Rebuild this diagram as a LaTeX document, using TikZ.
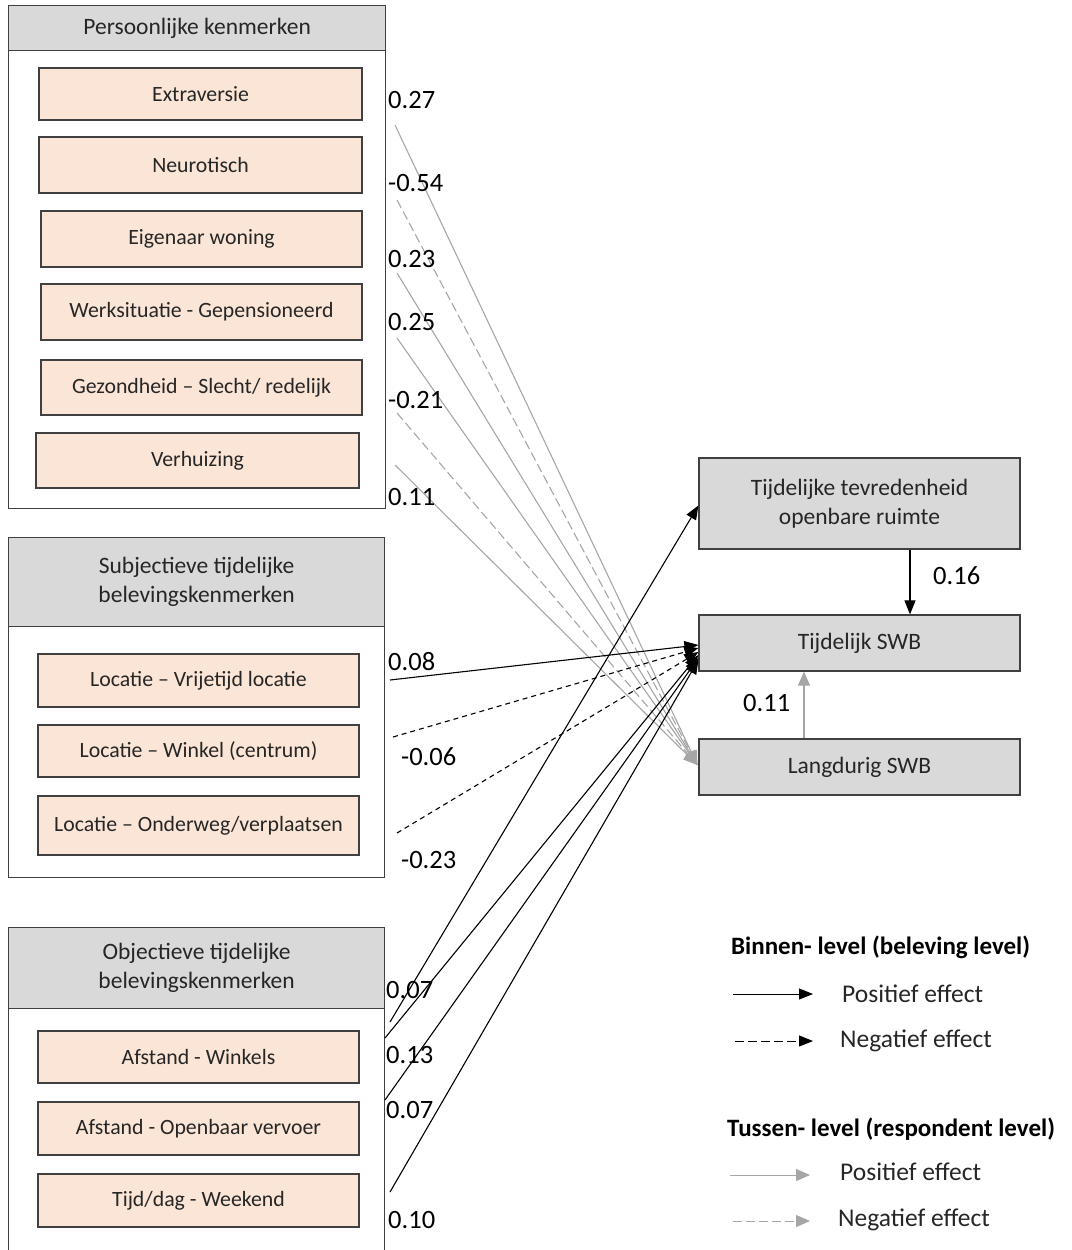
\documentclass[tikz,border=0pt]{standalone}
\usepackage{fontspec}
\setmainfont{Carlito}
\usepackage{xcolor}
\usepackage{tikz}
\usetikzlibrary{arrows.meta}
\usetikzlibrary{positioning}
\definecolor{lijn}{HTML}{404040}
\definecolor{grijs}{HTML}{D9D9D9}
\definecolor{perzik}{HTML}{FBE5D6}
\definecolor{tekst}{HTML}{262626}
\definecolor{licht}{HTML}{A6A6A6}
\tikzset{
  kader/.style={draw=lijn, line width=1.2pt, fill=white, anchor=north west, inner sep=0pt},
  kop/.style={draw=lijn, line width=1.2pt, fill=grijs, anchor=north west, align=center, text=tekst,
    font=\fontsize{23.5}{29}\selectfont, minimum width=377pt, minimum height=#1},
  kenmerk/.style={draw=lijn, line width=1.2pt, fill=perzik, text=tekst, font=\fontsize{21.8}{26}\selectfont,
    minimum width=321pt, minimum height=#1},
  kenmerk/.default=54pt,
  uitkomst/.style={draw=lijn, line width=1.2pt, fill=grijs, text=tekst, align=center,
    font=\fontsize{23.5}{29}\selectfont, minimum width=321pt, minimum height=#1},
  uitkomst/.default=56pt,
  getal/.style={font=\fontsize{26.5}{30}\selectfont, anchor=west, inner sep=0pt},
  legtekst/.style={getal, font=\fontsize{25.5}{30}\selectfont, text=tekst},
  legkop/.style={getal, font=\fontsize{25}{30}\selectfont\bfseries},
  pijl/.style={-{Triangle[length=14pt,width=11pt]}, line width=1.1pt},
  pijlgrijs/.style={pijl, draw=licht, -{Triangle[length=14pt,width=12pt,fill=licht]}},
  streep/.style={dash pattern=on #1 off 4pt},
  streep/.default=5pt,
}

\begin{document}
\begin{tikzpicture}[x=1pt, y=-1pt]
  \useasboundingbox (0,0) rectangle (1071,1250);
  % panel: persoonlijke kenmerken
  \node[kader, minimum width=377pt, minimum height=503pt] (pk) at (8,5) {};
  \node[kop=45pt] (pkkop) at (8,5) {Persoonlijke kenmerken};
  \node[kenmerk=52pt, minimum width=323pt] (extra) at (200.5,94) {Extraversie};
  \node[kenmerk=56pt, minimum width=323pt] (neuro) at (200.5,165) {Neurotisch};
  \node[kenmerk=56pt] (eigen) at (201.5,239) {Eigenaar woning};
  \node[kenmerk=56pt] (werk) at (201.5,312) {Werksituatie - Gepensioneerd};
  \node[kenmerk=55pt] (gezond) at (201.5,387.5) {Gezondheid -- Slecht/ redelijk};
  \node[kenmerk=55pt, minimum width=323pt] (verhuis) at (197.5,460.5) {Verhuizing};
  % panel: subjectieve kenmerken
  \node[kader, minimum width=376pt, minimum height=340pt] (sub) at (8,537) {};
  \node[kop=89pt, minimum width=376pt] (subkop) at (8,537) {Subjectieve tijdelijke\\belevingskenmerken};
  \node[kenmerk=53pt] (vrije) at (198.5,680.5) {Locatie -- Vrijetijd locatie};
  \node[kenmerk=52pt] (winkel) at (198.5,751) {Locatie -- Winkel (centrum)};
  \node[kenmerk=59pt] (onder) at (198.5,825.5) {Locatie -- Onderweg/verplaatsen};
  % panel: objectieve kenmerken
  \node[kader, minimum width=376pt, minimum height=330pt] (obj) at (8,927) {};
  \node[kop=81pt, minimum width=376pt] (objkop) at (8,927) {Objectieve tijdelijke\\belevingskenmerken};
  \node[kenmerk=52pt] (afswink) at (198.5,1057) {Afstand - Winkels};
  \node[kenmerk=53pt] (afsov) at (198.5,1128.5) {Afstand - Openbaar vervoer};
  \node[kenmerk=53pt] (weekend) at (198.5,1200.5) {Tijd/dag - Weekend};
  % uitkomsten
  \node[uitkomst=91pt] (tevr) at (859.5,503.5) {Tijdelijke tevredenheid\\openbare ruimte};
  \node[uitkomst] (tswb) at (859.5,643) {Tijdelijk SWB};
  \node[uitkomst] (lswb) at (859.5,767) {Langdurig SWB};
  % losse beginpunten
  \coordinate (g1) at (395,125);
  \coordinate (g2) at (397,200);
  \coordinate (g3) at (397,273);
  \coordinate (g4) at (397,338);
  \coordinate (g5) at (397,413);
  \coordinate (g6) at (395,465);
  \coordinate (b1) at (390,680);
  \coordinate (b2) at (393,737);
  \coordinate (b3) at (397,833);
  \coordinate (o1) at (390,1022);
  \coordinate (o2) at (385,1038);
  \coordinate (o3) at (385,1100);
  \coordinate (o4) at (390,1192);
  % tussen-level
  \foreach \a in {g1,g3,g4,g6}
    \draw[pijlgrijs] (\a) -- ([xshift=-1pt,yshift=2pt]lswb.west);
  \foreach \a in {g2,g5}
    \draw[pijlgrijs, streep=9pt] (\a) -- ([xshift=-1pt,yshift=2pt]lswb.west);
  % binnen-level
  \draw[pijl] (b1) -- ([yshift=-2pt]tswb.west);
  \draw[pijl, streep] (b2) -- ([yshift=-5pt]tswb.west);
  \draw[pijl, streep] (b3) -- ([yshift=-9pt]tswb.west);
  \draw[pijl] (o1) -- ([yshift=-2pt]tevr.west);
  \draw[pijl] (o2) -- ([yshift=-12pt]tswb.west);
  \draw[pijl] (o3) -- ([yshift=-15pt]tswb.west);
  \draw[pijl] (o4) -- ([yshift=-17pt]tswb.west);
  \draw[pijl] ([xshift=50.5pt]tevr.south) -- ([xshift=50.5pt]tswb.north);
  \draw[pijlgrijs] ([xshift=-55.5pt]lswb.north) -- ([xshift=-55.5pt]tswb.south);
  % coefficienten
  \node[getal] (c1) at (388,100) {0.27};
  \node[getal] (c2) at (388,183) {-0.54};
  \node[getal] (c3) at (388,259) {0.23};
  \node[getal] (c4) at (388,322) {0.25};
  \node[getal] (c5) at (388,400) {-0.21};
  \node[getal] (c6) at (388,497) {0.11};
  \node[getal] (c7) at (388,662) {0.08};
  \node[getal] (c8) at (401,757) {-0.06};
  \node[getal] (c9) at (401,860) {-0.23};
  \node[getal] (c10) at (386,990) {0.07};
  \node[getal] (c11) at (386,1055) {0.13};
  \node[getal] (c12) at (386,1110) {0.07};
  \node[getal] (c13) at (388,1220) {0.10};
  \node[getal] (c14) at (933,576) {0.16};
  \node[getal] (c15) at (743,703) {0.11};
  % legenda
  \node[legkop] (binnen) at (731,947) {Binnen- level (beleving level)};
  \coordinate (l1a) at (733,994);
  \coordinate (l1b) at (813,994);
  \coordinate (l2a) at (735,1041);
  \coordinate (l2b) at (813,1041);
  \draw[pijl, line width=1pt] (l1a) -- (l1b);
  \draw[pijl, line width=1pt, streep=9pt] (l2a) -- (l2b);
  \node[legtekst] (pos1) at (842,994) {Positief effect};
  \node[legtekst] (neg1) at (840,1041) {Negatief effect};
  \node[legkop] (tussen) at (727,1129) {Tussen- level (respondent level)};
  \coordinate (l3a) at (730,1175);
  \coordinate (l3b) at (810,1175);
  \coordinate (l4a) at (733,1221);
  \coordinate (l4b) at (810,1221);
  \draw[pijlgrijs, line width=1pt] (l3a) -- (l3b);
  \draw[pijlgrijs, line width=1pt, streep=9pt] (l4a) -- (l4b);
  \node[legtekst] (pos2) at (840,1172) {Positief effect};
  \node[legtekst] (neg2) at (838,1220) {Negatief effect};
\end{tikzpicture}
\end{document}
